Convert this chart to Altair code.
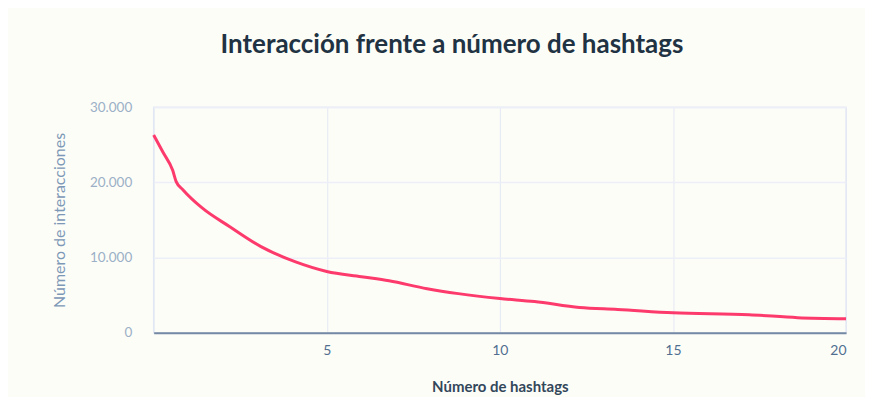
import altair as alt
import pandas as pd

hashtags = [0, 0.27, 0.55, 0.65, 0.85, 1.4, 2.2, 3.1, 4.1, 5, 6, 6.8, 7.9, 8.8, 10, 11, 12.3, 13.4, 15, 17.2, 18.6, 20]
interacciones = [26300, 24000, 21600, 20100, 19000, 16600, 14100, 11450, 9420, 8150, 7450, 6900,
                 5850, 5200, 4550, 4150, 3350, 3100, 2650, 2400, 2000, 1860]
y_ticks = [0, 10000, 20000, 30000]
x_ticks = [0, 5, 10, 15, 20]

df = pd.DataFrame({"x": hashtags, "y": interacciones})

FONT = "Lato"
BG = "#fdfdf8"

line = alt.Chart(df).mark_line(
    color="#fd3a6c", strokeWidth=3, interpolate="monotone"
).encode(
    x=alt.X("x:Q", scale=alt.Scale(domain=[0, 20], nice=False),
            axis=alt.Axis(values=x_ticks, title="Número de hashtags",
                          labelExpr="datum.value == 0 ? '' : datum.label",
                          labelColor="#516f90", labelFontSize=14, labelFont=FONT,
                          labelPadding=11, ticks=False,
                          domain=True, domainColor="#7489a3", domainWidth=2,
                          titleColor="#33475b", titleFont=FONT, titleFontSize=15,
                          titleFontWeight="bold", titlePadding=22,
                          grid=True, gridColor="#e3e8f3", gridWidth=1)),
    y=alt.Y("y:Q", scale=alt.Scale(domain=[0, 30000], nice=False),
            axis=alt.Axis(values=y_ticks, title="Número de interacciones",
                          labelExpr="replace(format(datum.value, ','), ',', '.')",
                          labelColor="#9bb0c6", labelFontSize=13.5, labelFont=FONT,
                          labelPadding=22, ticks=False, domain=False,
                          titleColor="#7c98b6", titleFont=FONT, titleFontSize=16,
                          titleFontWeight="normal", titlePadding=22,
                          grid=True, gridColor="#eceff8", gridWidth=1.5)),
)

chart = line.properties(
    width=694,
    height=226,
    title=alt.TitleParams("Interacción frente a número de hashtags", font=FONT,
                          fontSize=26, fontWeight="bold", color="#213343",
                          anchor="middle", offset=42, dx=-48),
    background=BG,
    autosize=alt.AutoSizeParams(type="none"),
    padding={"left": 146, "top": 99, "right": 19, "bottom": 64},
).configure_view(stroke="#e3e8f3", strokeWidth=1.5)

chart.save("out.html", embed_options={"renderer": "svg", "actions": False})
